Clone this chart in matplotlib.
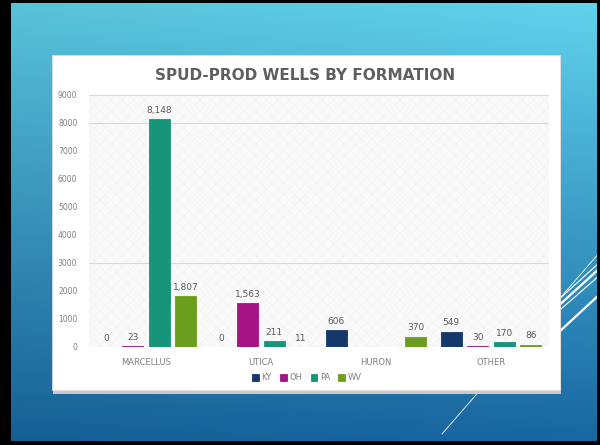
import numpy as np
import matplotlib.pyplot as plt
from matplotlib.patches import Rectangle

# Datos del grafico (pozos por formacion y estado)
formations = ["MARCELLUS", "UTICA", "HURON", "OTHER"]
states = ["KY", "OH", "PA", "WV"]
ky = [0, 0, 606, 549]
oh = [23, 1563, None, 30]
pa = [8148, 211, None, 170]
wv = [1807, 11, 370, 86]
yticks = [0, 1000, 2000, 3000, 4000, 5000, 6000, 7000, 8000, 9000]
colors = ["#15386a", "#a51482", "#17957a", "#6b9e1f"]

W, H = 600, 445
fig = plt.figure(figsize=(W / 100, H / 100), dpi=100)
plt.rcParams["hatch.linewidth"] = 0.3

# Fondo de la diapositiva: degradado azul
bg = fig.add_axes([0, 0, 1, 1])
bg.set_xlim(0, W)
bg.set_ylim(H, 0)
bg.axis("off")
top = np.array([0.38, 0.83, 0.93])
bottom = np.array([0.09, 0.40, 0.63])
ty = np.linspace(0, 1, 200)[:, None, None]
tx = np.linspace(0, 1, 300)[None, :, None]
grad = top * (1 - ty) + bottom * ty
grad = grad * (0.92 + 0.08 * tx)
bg.imshow(np.clip(grad, 0, 1), extent=(0, W, H, 0), aspect="auto", zorder=0)

# Lineas decorativas blancas
for (x0, y0, x1, y1, lw) in [(442, 434, 600, 252, 0.6), (545, 312, 600, 262, 0.8),
                             (545, 318, 600, 268, 1.6), (545, 323, 600, 275, 0.8),
                             (545, 345, 600, 294, 1.6)]:
    bg.plot([x0, x1], [y0, y1], color="white", lw=lw, zorder=1)

# Panel blanco con sombra
bg.add_patch(Rectangle((53, 57), 508, 337, facecolor="#c9c9c9", edgecolor="none", zorder=2))
bg.add_patch(Rectangle((52, 55), 508, 335, facecolor="white", edgecolor="#e0e0e0", lw=0.5, zorder=3))

# Marco negro
bg.add_patch(Rectangle((0, 0), 11, H, facecolor="black", zorder=5))
bg.add_patch(Rectangle((0, 0), W, 3, facecolor="black", zorder=5))
bg.add_patch(Rectangle((597, 0), 3, H, facecolor="black", zorder=5))
bg.add_patch(Rectangle((0, 441), W, 4, facecolor="black", zorder=5))

# Area del grafico
ax = fig.add_axes([88.5 / W, 1 - 347 / H, 460 / W, 252 / H])
ax.set_facecolor("none")
ax.set_xlim(-0.5, len(formations) - 0.5)
ax.set_ylim(0, 9000)
ax.add_patch(Rectangle((0, 0), 1, 1, transform=ax.transAxes, facecolor="#f9f9f9",
                       edgecolor="#efefef", hatch="xxx", lw=0, zorder=0))
for g in [3000, 8000, 9000]:
    ax.axhline(g, color="#d9d9d9", lw=0.8, zorder=1)

x = np.arange(len(formations))
step = 0.23
for i, (vals, c) in enumerate(zip([ky, oh, pa, wv], colors)):
    pos = x + (i - 1.5) * step
    heights = [v if v is not None else 0 for v in vals]
    ax.bar(pos, heights, width=0.183, color=c, edgecolor=c, lw=0.6,
           label=states[i], zorder=2)
    for p, v in zip(pos, vals):
        if v is None:
            continue
        ax.annotate(f"{v:,}", (p, v), xytext=(0, 3), textcoords="offset points",
                    ha="center", va="bottom", fontsize=6.5, color="#595959", zorder=3)

ax.set_yticks(yticks)
ax.set_yticklabels([str(t) for t in yticks], fontsize=5.5, color="#7f7f7f")
ax.set_xticks(x)
ax.set_xticklabels(formations, fontsize=6, color="#7f7f7f")
ax.tick_params(length=0, pad=8)
for s in ax.spines.values():
    s.set_visible(False)

# Titulo y leyenda
fig.text(305 / W, 1 - 75 / H, "SPUD-PROD WELLS BY FORMATION", ha="center", va="center",
         fontsize=11, fontweight="bold", color="#5f5f5f")
fig.legend(loc="center", bbox_to_anchor=(307 / W, 1 - 378 / H), ncol=4, frameon=False,
           fontsize=6, handlelength=0.8, handleheight=0.8, columnspacing=1.0,
           handletextpad=0.3, labelcolor="#7f7f7f")

plt.savefig("out.png", dpi=100)
